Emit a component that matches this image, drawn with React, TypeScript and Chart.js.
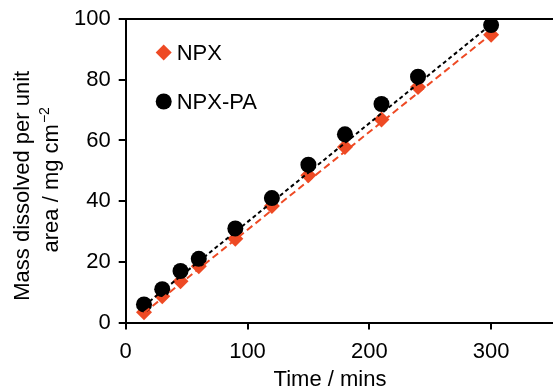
import React, { useEffect, useRef } from "react";
import { Chart, registerables } from "chart.js";
Chart.register(...registerables);

// ---- data ----
const timeMins = [15, 30, 45, 60, 90, 120, 150, 180, 210, 240, 300];
const npx = [3.4, 8.7, 13.6, 18.6, 27.6, 38.4, 48.5, 57.8, 66.9, 77.6, 94.8];
const npxPa = [6, 11, 17, 21, 31, 41, 52, 62, 72, 81, 98];
const npxFitX = [15, 300];
const npxFitY = [3.2, 95];
const npxPaFitX = [15, 300];
const npxPaFitY = [5.5, 98.2];
const xTicks = [0, 100, 200, 300];
const yTicks = [0, 20, 40, 60, 80, 100];
const seriesNames = ["NPX", "NPX-PA"];
const xTitle = "Time / mins";
const yTitleLine1 = "Mass dissolved per unit";
const yTitleLine2 = "area / mg cm";
const yTitleSup = "\u22122";

const RED = "#EE4A24";
const BLACK = "#000000";
const FONT = "'Liberation Sans', Arial, Helvetica, sans-serif";

function drawMarker(ctx: CanvasRenderingContext2D, style: string, x: number, y: number, r: number, color: string) {
  ctx.save();
  ctx.fillStyle = color;
  ctx.beginPath();
  if (style === "rectRot") {
    ctx.moveTo(x - r, y);
    ctx.lineTo(x, y - r);
    ctx.lineTo(x + r, y);
    ctx.lineTo(x, y + r);
    ctx.closePath();
  } else {
    ctx.arc(x, y, r, 0, Math.PI * 2);
  }
  ctx.fill();
  ctx.restore();
}

const decorPlugin = {
  id: "decor",
  afterDraw(chart: any) {
    const ctx: CanvasRenderingContext2D = chart.ctx;
    const a = chart.chartArea;
    ctx.save();
    // top frame line
    ctx.strokeStyle = "#000";
    ctx.lineWidth = 2;
    ctx.beginPath();
    ctx.moveTo(a.left - 1, a.top);
    ctx.lineTo(chart.width, a.top);
    ctx.stroke();

    // legend
    const legendItems = [
      { name: seriesNames[0], style: "rectRot", color: RED, r: 8 },
      { name: seriesNames[1], style: "circle", color: BLACK, r: 8 },
    ];
    ctx.font = `22px ${FONT}`;
    ctx.textBaseline = "middle";
    ctx.textAlign = "left";
    ctx.fillStyle = "#000";
    legendItems.forEach((it, i) => {
      const cy = a.top + 33.5 + i * 49;
      drawMarker(ctx, it.style, a.left + 38, cy, it.r, it.color);
      ctx.fillStyle = "#000";
      ctx.fillText(it.name, a.left + 51, cy + 1.5);
    });

    // x title
    ctx.font = `22px ${FONT}`;
    ctx.textAlign = "center";
    ctx.textBaseline = "alphabetic";
    ctx.fillText(xTitle, 330, chart.height - 3);

    // y title (rotated)
    const midY = (a.top + a.bottom) / 2;
    ctx.save();
    ctx.translate(28.5, midY + 15);
    ctx.rotate(-Math.PI / 2);
    ctx.textAlign = "center";
    ctx.fillText(yTitleLine1, 0, 0);
    ctx.restore();

    ctx.save();
    ctx.font = `22px ${FONT}`;
    const w1 = ctx.measureText(yTitleLine2).width;
    ctx.font = `14px ${FONT}`;
    const w2 = ctx.measureText(yTitleSup).width;
    const total = w1 + 1 + w2;
    ctx.translate(57.5, midY + 9);
    ctx.rotate(-Math.PI / 2);
    ctx.textAlign = "left";
    ctx.font = `22px ${FONT}`;
    ctx.fillText(yTitleLine2, -total / 2, 0);
    ctx.font = `14px ${FONT}`;
    ctx.fillText(yTitleSup, -total / 2 + w1 + 1, -9);
    ctx.restore();

    ctx.restore();
  },
};

export default function App() {
  const ref = useRef<HTMLCanvasElement>(null);
  useEffect(() => {
    if (!ref.current) return;
    const chart = new Chart(ref.current, {
      type: "scatter",
      data: {
        datasets: [
          {
            type: "line",
            label: "NPX fit",
            data: npxFitX.map((x, i) => ({ x, y: npxFitY[i] })),
            borderColor: RED,
            borderWidth: 2,
            borderDash: [7, 4],
            pointRadius: 0,
            fill: false,
          },
          {
            type: "line",
            label: "NPX-PA fit",
            data: npxPaFitX.map((x, i) => ({ x, y: npxPaFitY[i] })),
            borderColor: BLACK,
            borderWidth: 2,
            borderDash: [4, 3],
            pointRadius: 0,
            fill: false,
          },
          {
            label: seriesNames[1],
            data: timeMins.map((x, i) => ({ x, y: npxPa[i] })),
            pointStyle: "circle",
            pointRadius: 8,
            backgroundColor: BLACK,
            borderColor: BLACK,
            borderWidth: 0,
          },
          {
            label: seriesNames[0],
            data: timeMins.map((x, i) => ({ x, y: npx[i] })),
            pointStyle: "rectRot",
            pointRadius: 8,
            backgroundColor: RED,
            borderColor: RED,
            borderWidth: 0,
          },
        ],
      },
      options: {
        responsive: false,
        animation: false,
        devicePixelRatio: 1,
        layout: { padding: { left: 66, right: 4, top: 14, bottom: 15 } },
        plugins: {
          legend: { display: false },
          tooltip: { enabled: false },
        },
        scales: {
          x: {
            type: "linear",
            min: 0,
            max: 350,
            afterBuildTicks: (s: any) => {
              s.ticks = xTicks.map((v) => ({ value: v }));
            },
            grid: { display: true, drawOnChartArea: false, drawTicks: true, tickLength: 7, color: "#000", lineWidth: 2 },
            border: { display: true, color: "#000", width: 2 },
            ticks: { color: "#000", font: { size: 22, family: FONT }, padding: 9, maxRotation: 0 },
          },
          y: {
            type: "linear",
            min: 0,
            max: 100,
            afterBuildTicks: (s: any) => {
              s.ticks = yTicks.map((v) => ({ value: v }));
            },
            grid: { display: true, drawOnChartArea: false, drawTicks: true, tickLength: 7, color: "#000", lineWidth: 2 },
            border: { display: true, color: "#000", width: 2 },
            ticks: { color: "#000", font: { size: 22, family: FONT, lineHeight: 1 }, padding: 8 },
          },
        },
      },
      plugins: [decorPlugin],
    });
    return () => chart.destroy();
  }, []);
  return (
    <div style={{ position: "fixed", left: 0, top: 0, width: 553, height: 389, overflow: "hidden", background: "#fff" }}>
      <canvas ref={ref} width={560} height={389} style={{ display: "block", width: 560, height: 389 }} />
    </div>
  );
}
